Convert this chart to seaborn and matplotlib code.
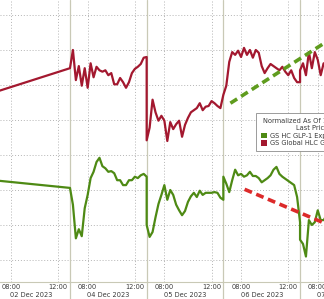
import numpy as np
import pandas as pd
import matplotlib
matplotlib.use("Agg")
import matplotlib.pyplot as plt
import seaborn as sns
from matplotlib.patches import Patch
from matplotlib.transforms import blended_transform_factory

# ---------------- data ----------------
day_labels = ["02 Dec 2023", "04 Dec 2023", "05 Dec 2023", "06 Dec 2023", "07 Dec 2023"]
session_hours = 6.5          # 06:30 - 13:00 trading session
bar_hours = 0.25             # 15-minute bars
time_tick_labels = ["08:00", "12:00"]
time_tick_offsets = [1.5, 5.5]   # hours after session open

series_names = ["GS HC GLP-1 Exposure", "GS Global HLC GLP-1 Losers"]
legend_title = "Normalized As Of 12/01/2023\nLast Price"

# previous close (01 Dec), then 15-min bars for 04, 05, 06, 07 Dec
red_prev = 23.9
red_dec04 = [27.4, 30.0, 25.7, 27.7, 24.9, 27.4, 24.6, 28.1, 26.1, 27.6, 27.1, 26.9, 27.1, 26.4,
             26.7, 25.1, 25.1, 26.0, 25.4, 24.6, 25.4, 26.7, 27.3, 27.6, 28.0, 28.9, 29.0]
red_dec05 = [17.1, 18.9, 22.9, 21.1, 19.9, 20.6, 19.9, 17.0, 19.7, 18.7, 19.4, 19.9, 17.6, 19.3,
             20.3, 21.1, 21.4, 21.7, 22.4, 21.4, 21.9, 22.0, 22.7, 22.4, 22.0, 21.7, 23.6]
red_dec06 = [23.6, 24.9, 28.3, 29.7, 29.3, 29.9, 29.0, 30.3, 29.3, 30.0, 28.9, 30.0, 29.6, 27.7,
             26.7, 27.4, 28.0, 27.7, 27.4, 27.1, 27.6, 26.9, 26.4, 27.1, 26.0, 25.4, 25.4]
red_dec07 = [27.1, 28.1, 26.4, 29.7, 27.4, 29.7, 28.6, 26.4, 28.1, 27.4]

green_prev = 11.4
green_dec04 = [10.3, 7.9, 3.1, 4.4, 3.4, 7.4, 9.3, 11.7, 12.6, 14.0, 14.6, 13.4, 13.1, 12.6,
               12.7, 12.4, 11.4, 11.4, 10.7, 10.7, 11.4, 11.4, 11.9, 11.7, 12.1, 12.3, 11.9]
green_dec05 = [5.0, 3.3, 4.0, 6.1, 8.0, 9.3, 10.7, 8.6, 10.0, 9.3, 7.9, 7.1, 6.4, 7.0,
               8.3, 9.1, 9.6, 9.0, 9.9, 9.3, 9.6, 9.6, 9.6, 9.7, 9.6, 8.9, 8.6]
green_dec06 = [11.9, 10.9, 9.7, 11.4, 12.9, 12.1, 12.3, 11.9, 12.1, 12.6, 12.0, 12.0, 11.7, 11.1,
               11.4, 11.7, 12.1, 12.9, 13.3, 12.3, 11.9, 11.6, 11.3, 11.0, 10.7, 9.0, 5.4]
green_dec07 = [2.9, 2.3, 0.5, 5.7, 5.0, 5.4, 7.1, 5.7, 5.7, 6.4]

# trend lines (x in trading hours, y in chart units)
green_trend_x = [20.1, 29.0]
green_trend_y = [22.4, 32.0]
red_trend_x = [21.3, 29.0]
red_trend_y = [10.1, 4.6]

grid_values = [0, 5, 10, 15, 20, 25, 30, 35]

# ---------------- build frames ----------------
def build(prev, days):
    t = [0.0]
    v = [prev]
    for k, vals in enumerate(days, start=1):
        for j, val in enumerate(vals):
            t.append(session_hours * k + bar_hours * j)
            v.append(val)
    return pd.DataFrame({"t": t, "value": v})

df_red = build(red_prev, [red_dec04, red_dec05, red_dec06, red_dec07])
df_green = build(green_prev, [green_dec04, green_dec05, green_dec06, green_dec07])

# ---------------- style ----------------
sns.set_style("white")
plt.rcParams["font.family"] = ["DejaVu Sans"]

RED = "#a3182f"
GREEN = "#4e8a14"
RED_DASH = "#dc2a2a"
GREEN_DASH = "#5f9c1e"
GRID = "#b4b4b4"
SEP = "#c9c9b6"
TXT = "#3a3a3a"

fig = plt.figure(figsize=(3.24, 2.99), dpi=100)
ax = fig.add_axes([0, 17 / 299, 1, 282 / 299])

sns.lineplot(data=df_red, x="t", y="value", sort=False, estimator=None,
             color=RED, linewidth=1.6, ax=ax, zorder=3)
sns.lineplot(data=df_green, x="t", y="value", sort=False, estimator=None,
             color=GREEN, linewidth=1.6, ax=ax, zorder=3)
sns.lineplot(x=green_trend_x, y=green_trend_y, color=GREEN_DASH, linewidth=2.6,
             linestyle=(0, (2.2, 1.3)), ax=ax, zorder=4)
sns.lineplot(x=red_trend_x, y=red_trend_y, color=RED_DASH, linewidth=2.6,
             linestyle=(0, (2.2, 1.3)), ax=ax, zorder=4)

ax.set_xlabel("")
ax.set_ylabel("")

# ticks & grid
n_days = len(day_labels)
xticks, xlabels = [], []
for k in range(n_days):
    for off, lab in zip(time_tick_offsets, time_tick_labels):
        xticks.append(session_hours * k + off)
        xlabels.append(lab)
ax.set_xticks(xticks)
ax.set_xticklabels(xlabels)
ax.set_yticks(grid_values)
ax.set_yticklabels([])
ax.set_xlim(0.57, 28.03)
ax.set_ylim(-3.14, 37.14)
ax.tick_params(axis="x", length=0, pad=1.6, labelsize=4.8, labelcolor=TXT)
ax.tick_params(axis="y", length=0)
ax.grid(True, linestyle=(0, (1, 2)), color=GRID, linewidth=0.7, zorder=0)

for s in ["top", "left", "right"]:
    ax.spines[s].set_visible(False)
ax.spines["bottom"].set_color(SEP)
ax.spines["bottom"].set_linewidth(0.8)

# day separators
for k in range(1, n_days):
    ax.axvline(session_hours * k, ymin=-0.07, ymax=1, clip_on=False,
               color=SEP, linewidth=0.9, zorder=1)

# date labels
trans = blended_transform_factory(ax.transData, ax.transAxes)
for k, lab in enumerate(day_labels):
    ax.text(session_hours * k + session_hours / 2, -0.046, lab, transform=trans,
            ha="center", va="center", fontsize=4.8, color=TXT, clip_on=False)

# legend
handles = [Patch(facecolor=GREEN, edgecolor="none"), Patch(facecolor=RED, edgecolor="none")]
leg = fig.legend(handles, series_names, loc="upper left",
                 bbox_to_anchor=(256 / 324, 1 - 113 / 299), borderaxespad=0,
                 title=legend_title, fontsize=4.8, title_fontsize=4.8,
                 frameon=True, fancybox=False, edgecolor="#8c8c8c", framealpha=1,
                 borderpad=0.8, handlelength=0.9, handleheight=0.9,
                 handletextpad=0.4, labelspacing=0.2, alignment="center")
leg.get_frame().set_linewidth(0.6)
leg.get_title().set_multialignment("center")
leg.get_title().set_color(TXT)
for t in leg.get_texts():
    t.set_color(TXT)

fig.savefig("out.png", dpi=100)
